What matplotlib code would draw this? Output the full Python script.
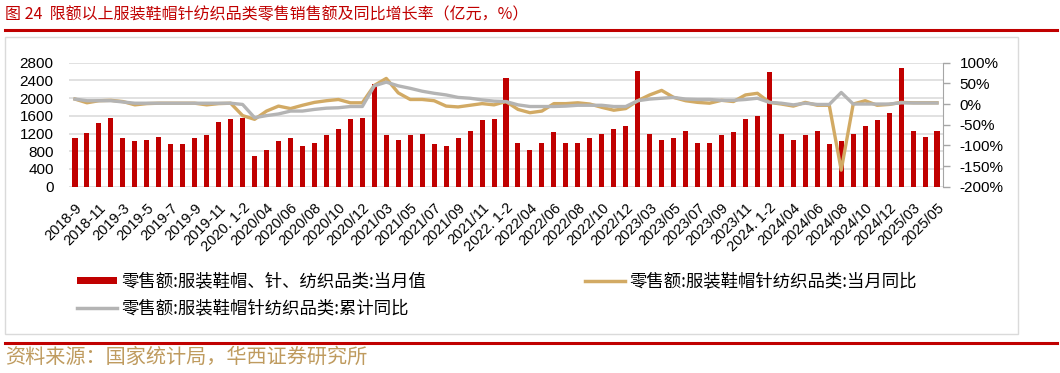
import matplotlib
matplotlib.use("Agg")
import matplotlib.pyplot as plt
from matplotlib.lines import Line2D
from matplotlib.patches import Rectangle

# x categories (monthly, Jan-Feb combined)
months = [
    "2018-9", "2018-10", "2018-11", "2018-12",
    "2019-3", "2019-4", "2019-5", "2019-6", "2019-7", "2019-8", "2019-9", "2019-10", "2019-11", "2019-12",
    "2020. 1-2", "2020/03", "2020/04", "2020/05", "2020/06", "2020/07", "2020/08", "2020/09", "2020/10", "2020/11", "2020/12",
    "2021. 1-2", "2021/03", "2021/04", "2021/05", "2021/06", "2021/07", "2021/08", "2021/09", "2021/10", "2021/11", "2021/12",
    "2022. 1-2", "2022/03", "2022/04", "2022/05", "2022/06", "2022/07", "2022/08", "2022/09", "2022/10", "2022/11", "2022/12",
    "2023. 1-2", "2023/03", "2023/04", "2023/05", "2023/06", "2023/07", "2023/08", "2023/09", "2023/10", "2023/11", "2023/12",
    "2024. 1-2", "2024/03", "2024/04", "2024/05", "2024/06", "2024/07", "2024/08", "2024/09", "2024/10", "2024/11", "2024/12",
    "2025. 1-2", "2025/03", "2025/04", "2025/05",
]

# 当月值 (亿元)
retail = [
    1090, 1220, 1430, 1560,
    1090, 1030, 1060, 1130, 955, 955, 1090, 1160, 1465, 1535,
    1560, 685, 825, 1030, 1090, 925, 995, 1160, 1295, 1535, 1555,
    2330, 1160, 1060, 1160, 1195, 955, 925, 1090, 1265, 1495, 1535,
    2445, 995, 830, 995, 1225, 995, 995, 1090, 1195, 1295, 1360,
    2620, 1195, 1060, 1090, 1265, 995, 995, 1160, 1225, 1535, 1600,
    2580, 1195, 1060, 1160, 1265, 955, 1030, 1195, 1360, 1495, 1670,
    2685, 1265, 1130, 1265,
]

# 当月同比 (%)
yoy_month = [
    12, 3, 8, 9,
    6, -2, 1, 2, 2, 2, 2, -2, 1, 2,
    -28, -37, -17, -5, -11, -3, 4, 8, 11, 3, 3,
    45, 62, 27, 11, 11, 8, -5, -7, -3, 1, -2,
    6, -13, -21, -17, 1, 1, 3, 0, -8, -15, -11,
    8, 22, 33, 16, 8, 4, 2, 9, 6, 22, 26,
    4, 0, -5, 4, -3, -3, -160, 0, 8, -3, -1,
    4, 3, 3, 3,
]

# 累计同比 (%)
yoy_cum = [
    12, 8, 8, 8,
    5, 2, 2, 2, 2, 2, 2, 2, 2, 2,
    -1, -33, -28, -24, -17, -17, -13, -10, -9, -6, -6,
    44, 53, 44, 38, 31, 26, 22, 16, 14, 10, 7,
    6, -2, -6, -6, -6, -5, -3, -3, -3, -6, -6,
    8, 12, 14, 16, 12, 11, 11, 9, 9, 11, 14,
    4, 2, -2, 2, -1, -1, 28, 0, 0, 0, 0,
    3, 2.5, 2.5, 2.5,
]

left_ticks = [0, 400, 800, 1200, 1600, 2000, 2400, 2800]
right_ticks = [-200, -150, -100, -50, 0, 50, 100]

title = "图 24  限额以上服装鞋帽针纺织品类零售销售额及同比增长率（亿元，%）"
source = "资料来源：国家统计局，华西证券研究所"
names = ["零售额:服装鞋帽、针、纺织品类:当月值",
         "零售额:服装鞋帽针纺织品类:当月同比",
         "零售额:服装鞋帽针纺织品类:累计同比"]

RED = "#C00000"
GOLD = "#D2AA64"
GREY = "#B4B4B4"
W, H = 1060, 373

cjk = ["Noto Sans CJK SC", "DejaVu Sans"]
num = ["Liberation Sans", "DejaVu Sans"]


def fx(x):
    return x / W


def fy(y):
    return 1 - y / H


fig = plt.figure(figsize=(W / 100, H / 100), dpi=100)
ax = fig.add_axes([fx(69), fy(186.7), fx(943) - fx(69), fy(62.7) - fy(186.7)])
ax2 = ax.twinx()

x = list(range(len(months)))
ax.bar(x, retail, width=0.42, color=RED, zorder=2)
ax.set_ylim(0, 2800)
ax.set_yticks(left_ticks)
ax.set_xlim(-0.5, len(months) - 0.5)
ax.grid(axis="y", color="#D9D9D9", linewidth=1.1)
ax.set_axisbelow(True)
ax.set_xticks(x[::2])
ax.set_xticklabels(months[::2], rotation=45, ha="right", va="top",
                   rotation_mode="anchor", family=num, fontsize=10.5)
ax.tick_params(axis="x", length=0, pad=10)
ax.tick_params(axis="y", length=0, pad=11, labelsize=11)
for t in ax.get_yticklabels():
    t.set_family(num)

ax2.plot(x, yoy_month, color=GOLD, linewidth=2.4, zorder=3)
ax2.plot(x, yoy_cum, color=GREY, linewidth=2.4, zorder=4)
ax2.set_ylim(-200, 100)
ax2.set_yticks(right_ticks)
ax2.set_yticklabels([f"{v}%" for v in right_ticks], family=num, fontsize=11)
ax2.tick_params(axis="y", length=5, width=1, color="#A6A6A6", pad=7)

for s in ["top", "left", "bottom"]:
    ax.spines[s].set_visible(False)
    ax2.spines[s].set_visible(False)
ax.spines["right"].set_visible(False)
ax2.spines["right"].set_color("#A6A6A6")

# title and red rules
fig.text(fx(5), fy(15), title, color=RED, fontsize=11.5, family=cjk, va="center", ha="left")
fig.add_artist(Line2D([fx(5), fx(1057)], [fy(29.5), fy(29.5)], color=RED, linewidth=2.2))
fig.add_artist(Line2D([fx(5), fx(1057)], [fy(343), fy(343)], color=RED, linewidth=2.2))
fig.add_artist(Rectangle((fx(5), fy(334)), fx(1018) - fx(5), fy(37) - fy(334),
                         fill=False, edgecolor="#DADADA", linewidth=1))
fig.text(fx(5), fy(357), source, color="#BF9B5F", fontsize=14.5, family=cjk, va="center", ha="left")

# legend
fig.add_artist(Rectangle((fx(77), fy(284)), fx(117) - fx(77), fy(277) - fy(284),
                         facecolor=RED, edgecolor="none"))
fig.text(fx(121), fy(281), names[0], fontsize=12.5, family=cjk, va="center", ha="left")
fig.add_artist(Line2D([fx(585), fx(625)], [fy(281), fy(281)], color=GOLD, linewidth=2.5))
fig.text(fx(629), fy(281), names[1], fontsize=12.5, family=cjk, va="center", ha="left")
fig.add_artist(Line2D([fx(77), fx(117)], [fy(308), fy(308)], color=GREY, linewidth=2.5))
fig.text(fx(121), fy(308), names[2], fontsize=12.5, family=cjk, va="center", ha="left")

fig.savefig("out.png", dpi=100)
